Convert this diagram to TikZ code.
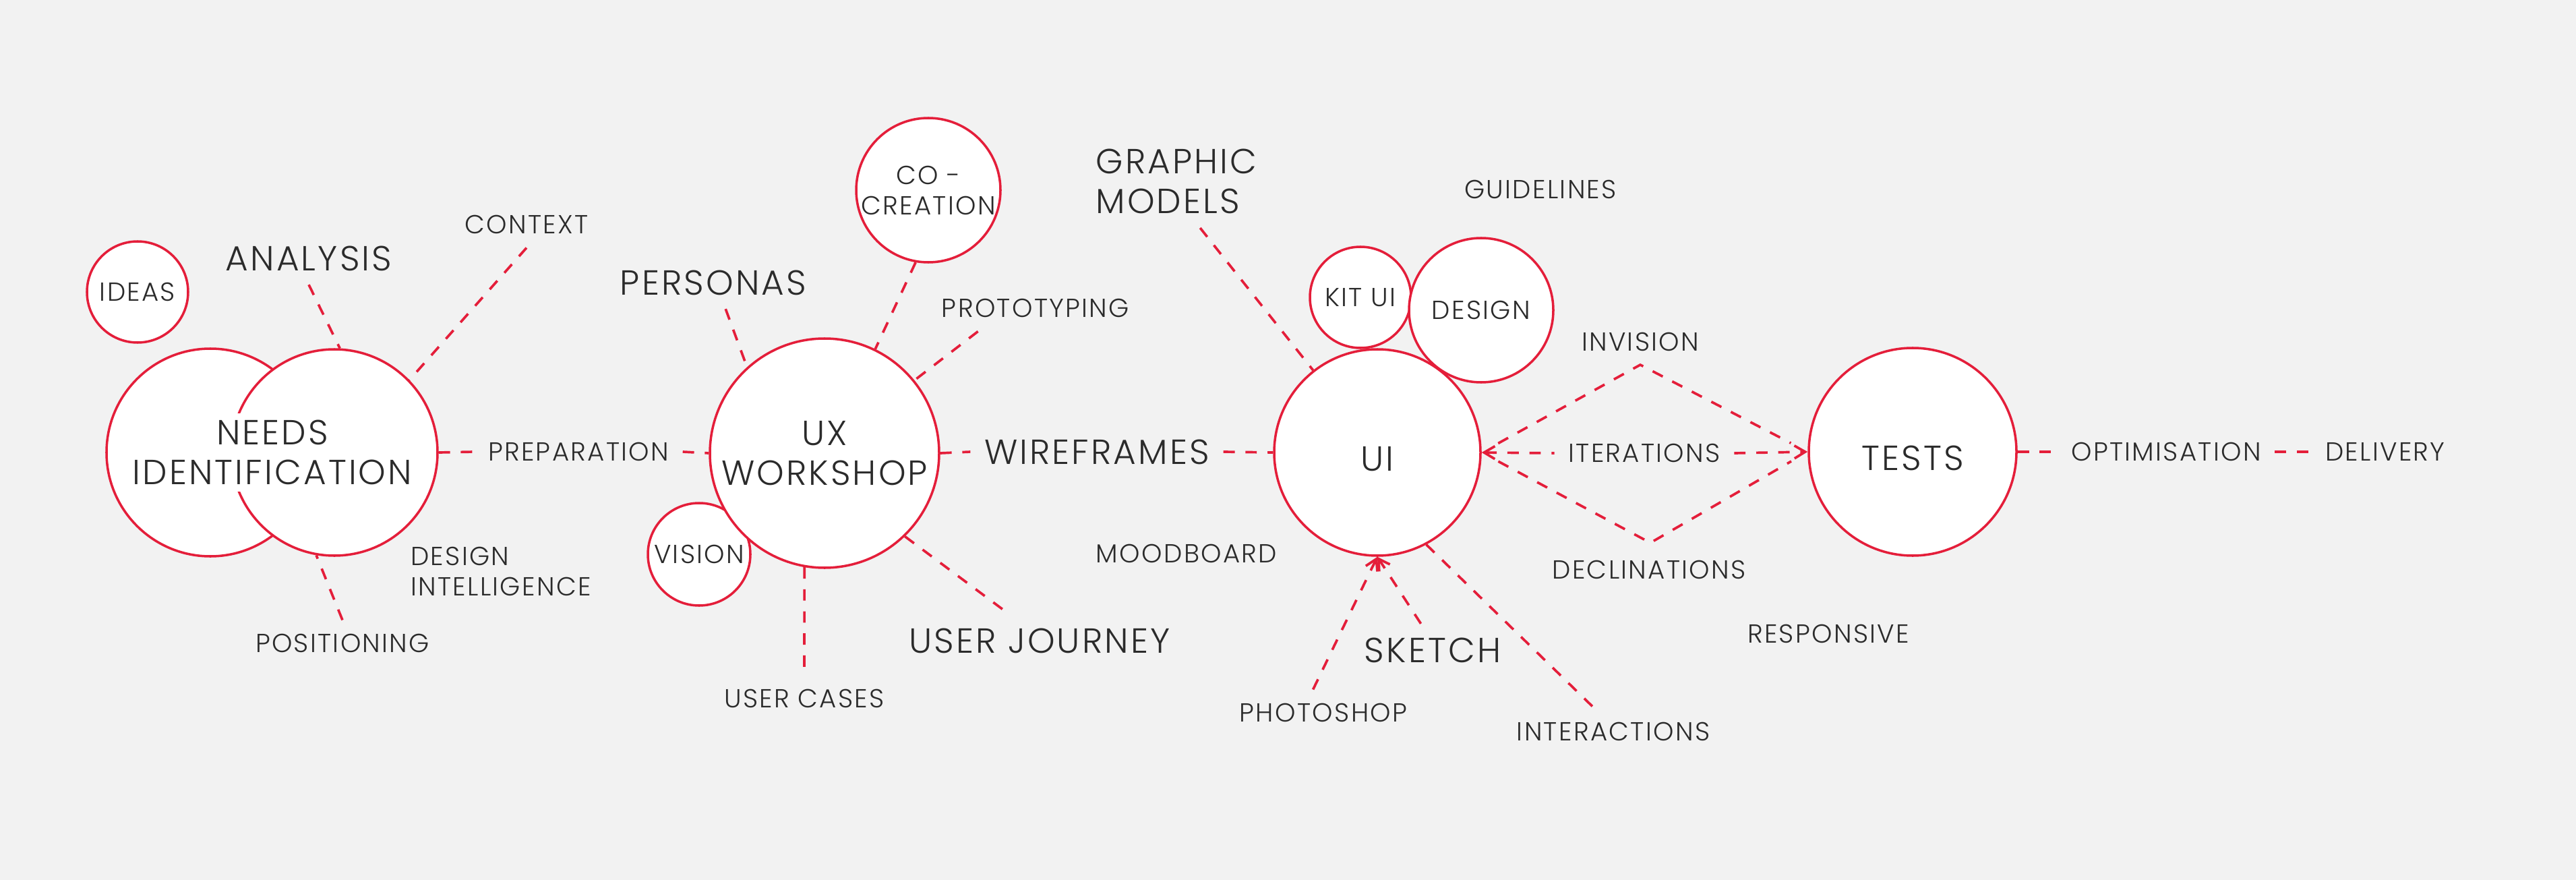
\documentclass[tikz,border=0pt]{standalone}
\usepackage{fontspec}
\setmainfont{Poppins}[UprightFont=* Light,LetterSpace=6]
\usetikzlibrary{arrows.meta,shapes}
\definecolor{ured}{RGB}{228,30,58}
\definecolor{bgc}{RGB}{242,242,242}
\definecolor{ink}{RGB}{43,43,43}
\newcommand{\bigtxt}{\fontsize{14.7}{17}\selectfont}
\newcommand{\smtxt}{\fontsize{11}{12.8}\selectfont}
\begin{document}
\begin{tikzpicture}[>={Straight Barb[length=0.16cm,width=0.19cm]},
	bubble/.style={circle,draw=ured,fill=white,line width=1pt,inner sep=0pt,text=ink},
	lowtxt/.style={text height=0.54cm,text depth=0pt},
	lbl/.style={text=ink,inner sep=0.2cm},
	link/.style={color=ured,line width=1.05pt,dash pattern=on 4.8pt off 4.5pt}]
		\path[use as bounding box,fill=bgc](0,0)rectangle(38.21,-13.05);
		\node[bubble,minimum size=1.5cm,font=\smtxt](ideas)at(2.04, -4.33){IDEAS};
		\node[bubble,minimum size=3.08cm](needsL)at(3.12, -6.71){};
		\node[bubble,minimum size=3.06cm](needsR)at(4.96, -6.71){};
		\node[fill=white,inner sep=0.1cm,align=center,font=\bigtxt,text=ink](needs)at(4.04, -6.71){NEEDS\\IDENTIFICATION};
		\node[lbl,font=\bigtxt](analysis)at(4.58, -3.83){ANALYSIS};
		\node[lbl,font=\smtxt](context)at(7.81, -3.33){CONTEXT};
		\node[lbl,font=\smtxt](preparation)at(8.58, -6.70){PREPARATION};
		\node[lbl,font=\smtxt,align=left](designintel)at(7.43, -8.47){DESIGN\\INTELLIGENCE};
		\node[lbl,font=\smtxt](positioning)at(5.08, -9.54){POSITIONING};
		\node[bubble,minimum size=1.52cm,font=\smtxt](vision)at(10.37, -8.22){VISION};
		\node[bubble,minimum size=3.4cm,font=\bigtxt,align=center](ux)at(12.23, -6.72){UX\\WORKSHOP};
		\node[bubble,minimum size=2.14cm,font=\smtxt,align=center](cocreation)at(13.77, -2.82){CO -\\CREATION};
		\node[lbl,font=\bigtxt](personas)at(10.58, -4.19){PERSONAS};
		\node[lbl,font=\smtxt](prototyping)at(15.36, -4.57){PROTOTYPING};
		\node[lbl,font=\bigtxt](wireframes)at(16.27, -6.70){WIREFRAMES};
		\node[lbl,font=\bigtxt](userjourney)at(15.42, -9.50){USER JOURNEY};
		\node[lbl,font=\smtxt](usercases)at(11.93, -10.36){USER CASES};
		\node[lbl,font=\smtxt](moodboard)at(17.60, -8.21){MOODBOARD};
		\node[lbl,font=\bigtxt,align=left](graphicmodels)at(17.45, -2.69){GRAPHIC\\MODELS};
		\node[bubble,lowtxt,minimum size=3.06cm,font=\bigtxt](ui)at(20.43, -6.71){UI};
		\node[bubble,minimum size=1.5cm,font=\smtxt](kitui)at(20.18, -4.41){KIT UI};
		\node[bubble,minimum size=2.14cm,font=\smtxt](design)at(21.97, -4.60){DESIGN};
		\node[lbl,font=\smtxt](guidelines)at(22.85, -2.81){GUIDELINES};
		\node[lbl,font=\smtxt](invision)at(24.33, -5.07){INVISION};
		\node[lbl,font=\smtxt](iterations)at(24.39, -6.72){ITERATIONS};
		\node[lbl,font=\smtxt](declinations)at(24.46, -8.45){DECLINATIONS};
		\node[lbl,font=\smtxt](responsive)at(27.12, -9.40){RESPONSIVE};
		\node[bubble,lowtxt,minimum size=3.08cm,font=\bigtxt](tests)at(28.37, -6.70){TESTS};
		\node[lbl,font=\smtxt](optimisation)at(32.13, -6.70){OPTIMISATION};
		\node[lbl,font=\smtxt](delivery)at(35.38, -6.70){DELIVERY};
		\node[lbl,font=\bigtxt](sketch)at(21.25, -9.64){SKETCH};
		\node[lbl,font=\smtxt](photoshop)at(19.63, -10.57){PHOTOSHOP};
		\node[lbl,font=\smtxt](interactions)at(23.93, -10.85){INTERACTIONS};
		\coordinate(top)at(24.33, -5.41);
		\coordinate(bot)at(24.48, -8.05);
		\path[link](analysis.south) edge (needsR.87)
		(context.south) edge (needsR.44)
		(needsR.east) edge (preparation.west)
		(preparation.east) edge (ux.west)
		(positioning.north) edge (needsR.-100)
		(personas.-65) edge (ux.132)
		(cocreation.-100) edge (ux.64)
		(prototyping.-158) edge (ux.39)
		(ux.east) edge (wireframes.west)
		(wireframes.east) edge (ui.west)
		(ux.-46) edge (userjourney.139)
		(ux.-100) edge (usercases.north)
		(graphicmodels.-63) edge (ui.128)
		(ui.-62) edge (interactions.129)
		(tests.east) edge (optimisation.west)
		(optimisation.east) edge (delivery.west);
		\draw[link,shorten <=0.28cm,shorten >=0.28cm](ui.east) -- (top) -- (tests.west);
		\draw[link,shorten <=0.28cm,shorten >=0.28cm](ui.east) -- (bot) -- (tests.west);
		\draw[link,<-](ui.east) -- (iterations.west);
		\draw[link,->](iterations.east) -- (tests.west);
		\draw[link,->](sketch.114) -- (ui.south);
		\draw[link,->](photoshop.114) -- (ui.south);
\end{tikzpicture}
\end{document}
